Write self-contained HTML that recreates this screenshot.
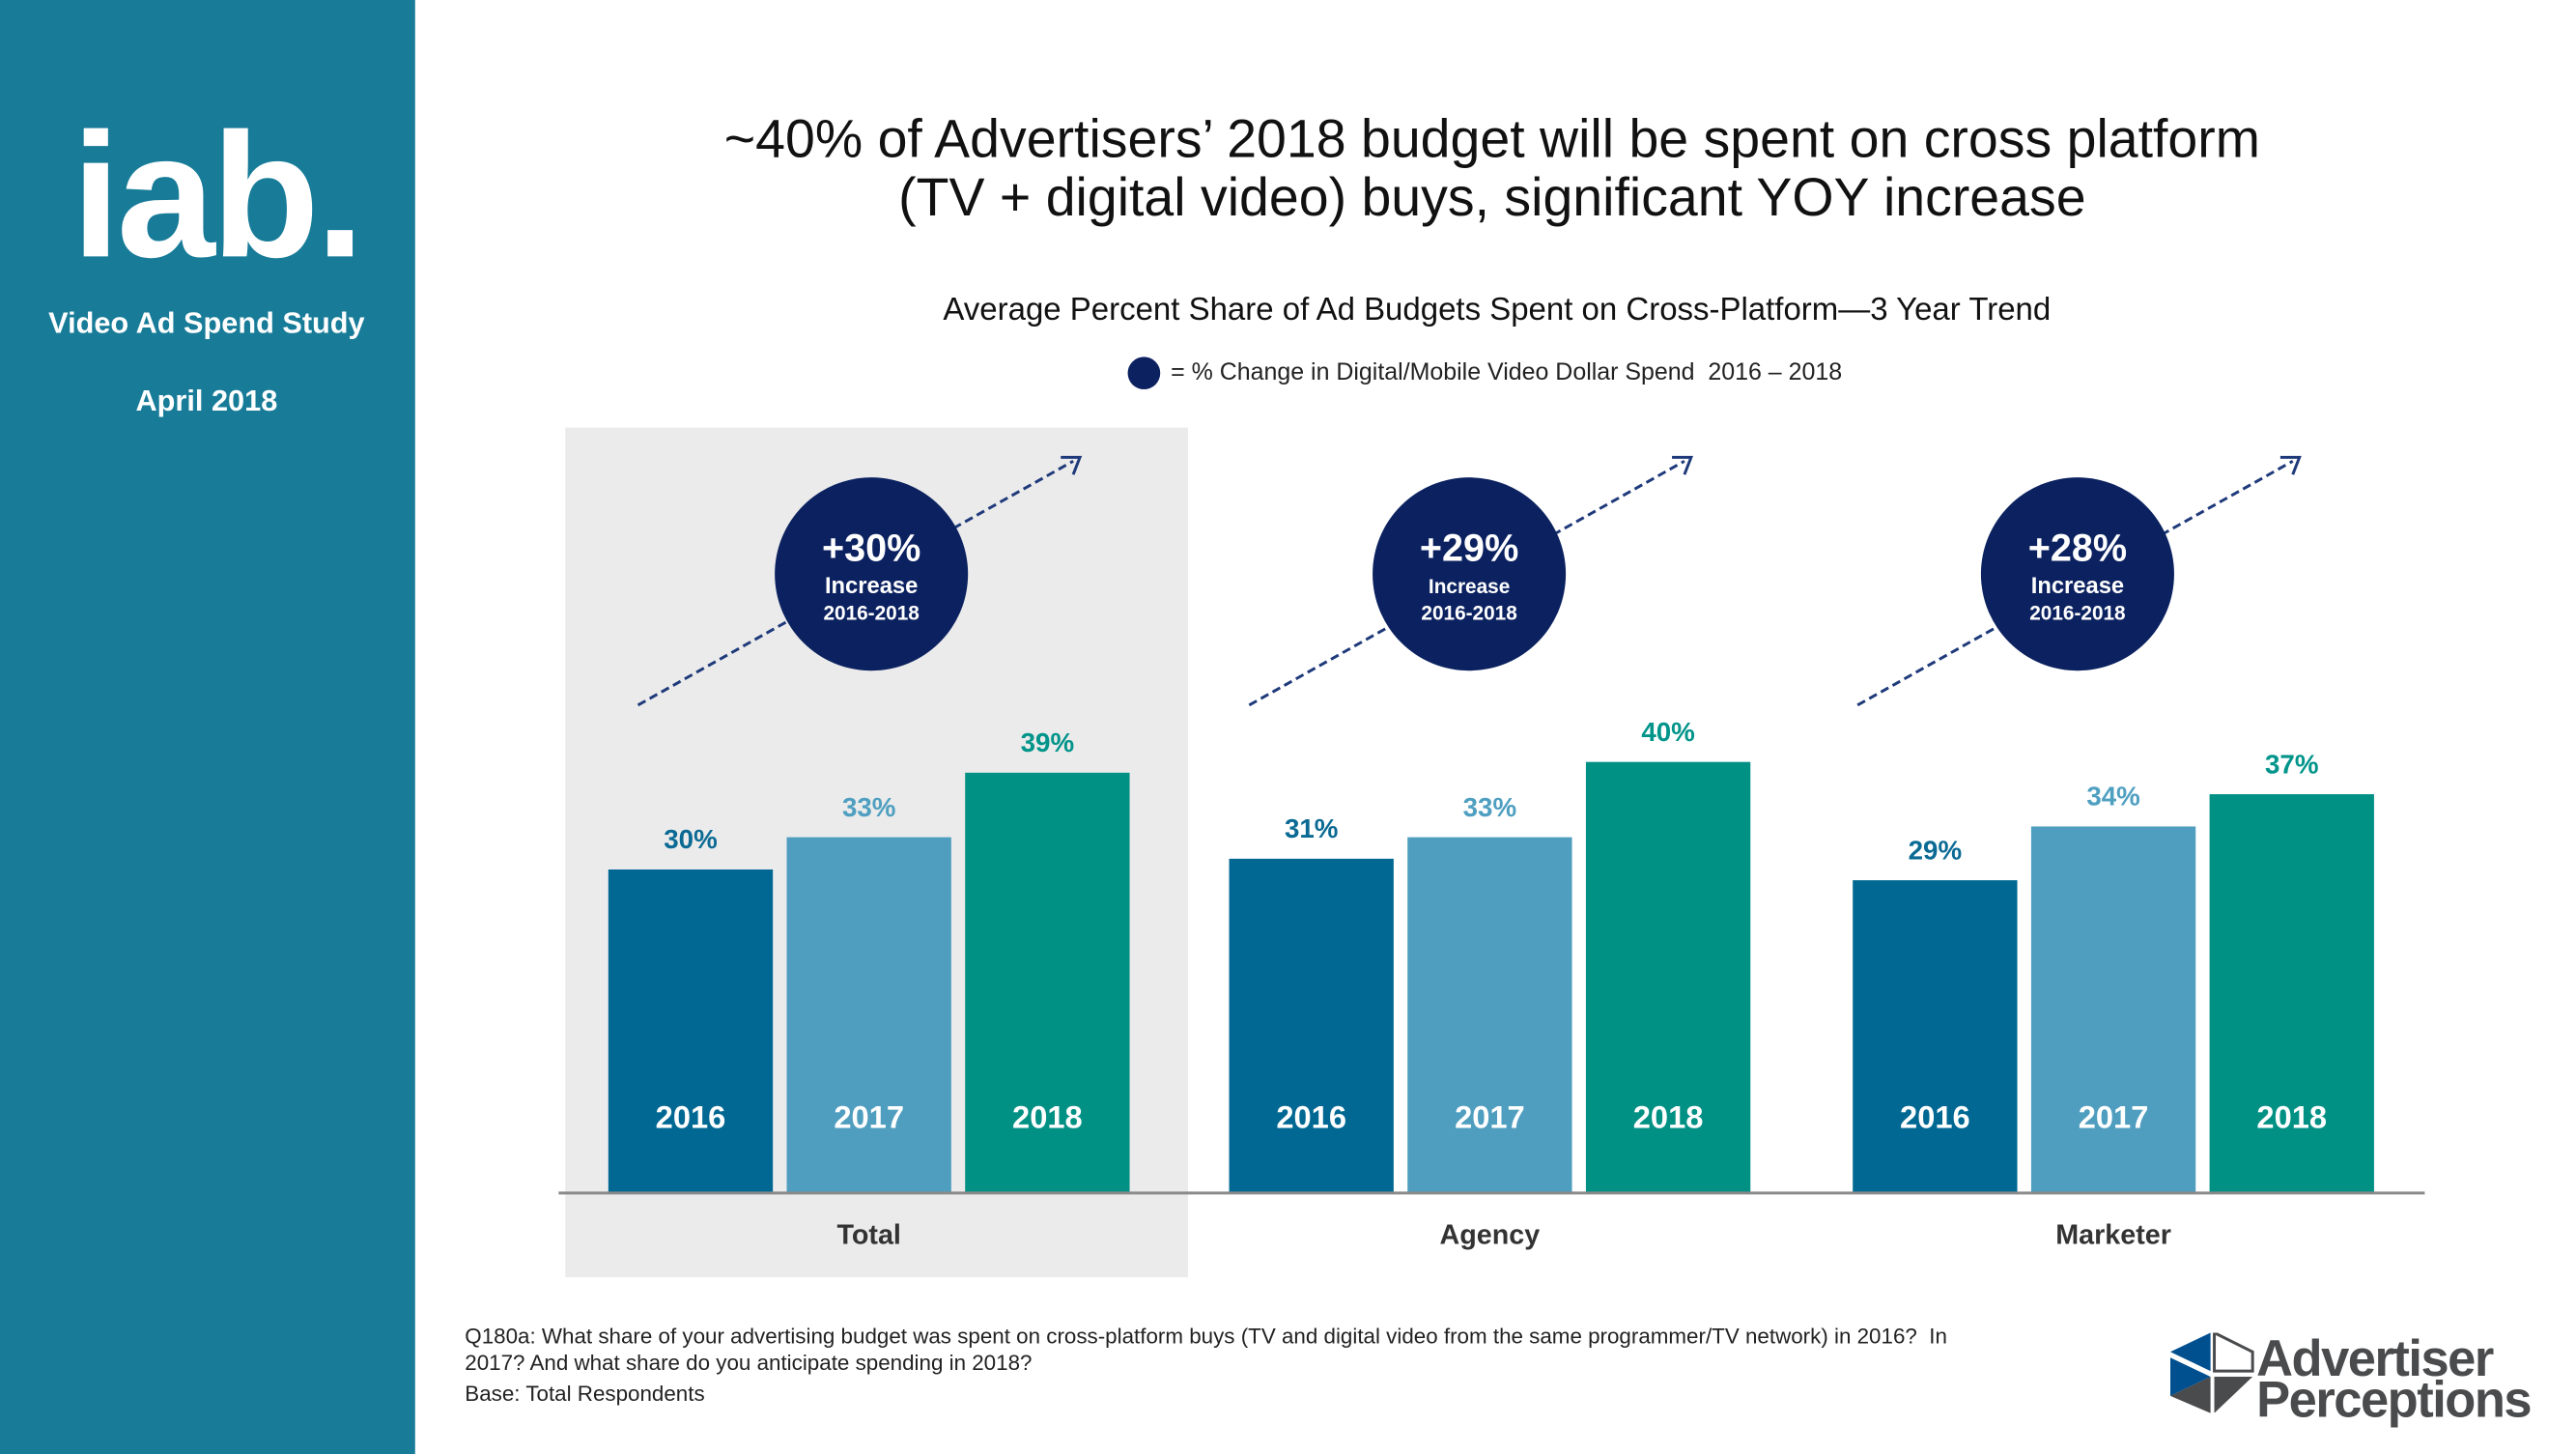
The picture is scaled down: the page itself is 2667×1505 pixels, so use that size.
<!DOCTYPE html>
<html><head><meta charset="utf-8"><style>
body{margin:0;width:2667px;height:1500px;overflow:hidden;background:#fff;font-family:"Liberation Sans",sans-serif;position:relative}
#wrap{position:absolute;left:0;top:0;width:2700px;height:1520px;transform:scale(0.9903);transform-origin:0 0}
.t{position:absolute;white-space:nowrap}
</style></head><body>
<div id="wrap">
<div style="position:absolute;left:0;top:0;width:434px;height:1520px;background:#187c99"></div>
<div class="t" style="left:10px;width:432px;text-align:center;top:110px;font-size:185px;font-weight:bold;color:#fff;letter-spacing:-4px;line-height:190px">iab.</div>
<div class="t" style="left:0;width:432px;text-align:center;top:320px;font-size:31px;font-weight:bold;color:#fff">Video Ad Spend Study</div>
<div class="t" style="left:0;width:432px;text-align:center;top:401px;font-size:31px;font-weight:bold;color:#fff">April 2018</div>
<div class="t" style="left:560px;width:2000px;text-align:center;top:114px;font-size:56px;line-height:61px;color:#111">~40% of Advertisers’ 2018 budget will be spent on cross platform<br>(TV + digital video) buys, significant YOY increase</div>
<div class="t" style="left:565px;width:2000px;text-align:center;top:305px;font-size:33.3px;color:#111">Average Percent Share of Ad Budgets Spent on Cross-Platform—3 Year Trend</div>
<div style="position:absolute;left:1179px;top:373px;width:34px;height:34px;border-radius:50%;background:#0c2260"></div>
<div class="t" style="left:1224px;top:375px;font-size:25.2px;color:#222">= % Change in Digital/Mobile Video Dollar Spend&nbsp; 2016 – 2018</div>
<svg id="chart" style="position:absolute;left:0;top:0" width="2700" height="1520"></svg>
<div class="t" style="left:486px;top:1383px;font-size:22.6px;line-height:28px;color:#222">Q180a: What share of your advertising budget was spent on cross-platform buys (TV and digital video from the same programmer/TV network) in 2016?&nbsp; In<br>2017? And what share do you anticipate spending in 2018?</div>
<div class="t" style="left:486px;top:1444px;font-size:22.6px;color:#222">Base: Total Respondents</div>
<svg style="position:absolute;left:2269px;top:1393px" width="420" height="110">
<polygon points="42,0 42,40 0,20" fill="#004f8f"/><polygon points="0,26 42,46 0,66" fill="#004f8f"/>
<polygon points="46,0 86,20 86,40 46,40" fill="none" stroke="#4a4b4d" stroke-width="3"/>
<polygon points="46,46 86,46 46,84" fill="#4a4b4d"/><polygon points="42,46 42,84 0,66" fill="#4a4b4d"/>
<text x="90" y="45" font-family="Liberation Sans" font-weight="bold" font-size="53" fill="#4a4b4d" letter-spacing="-1.5">Advertiser</text>
<text x="90" y="88" font-family="Liberation Sans" font-weight="bold" font-size="53" fill="#4a4b4d" letter-spacing="-1.5">Perceptions</text>
</svg>
</div>
<script>
const categories=["Total","Agency","Marketer"];
const years=["2016","2017","2018"];
const v2016=[30,31,29];
const v2017=[33,33,34];
const v2018=[39,40,37];
const increases=["+30%","+29%","+28%"];
const series=[v2016,v2017,v2018];
const barColors=["#006892","#4f9ebf","#009084"];
const labelColors=["#0b6a94","#4f9fc1","#00948a"];
const NS="http://www.w3.org/2000/svg";
const svg=document.getElementById('chart');
const baseY=1246,pxPer=11.24,groupX=[636,1285,1937],step=186.5,bw=172;
const y=v=>baseY-v*pxPer;
function mk(tag,attrs,parent){const e=document.createElementNS(NS,tag);for(const k in attrs)e.setAttribute(k,attrs[k]);(parent||svg).appendChild(e);return e;}
const panel=mk('rect',{x:591,y:447,width:651,height:888,fill:'#ebebeb'});


categories.forEach((c,g)=>{
  series.forEach((s,i)=>{
    const x=groupX[g]+i*step;
    const r=mk('rect',{x:x,y:y(s[g]),width:bw,height:s[g]*pxPer,fill:barColors[i]});
    
    
    const t=mk('text',{x:x+bw/2,y:y(s[g])-22,'text-anchor':'middle','font-size':28,'font-weight':'bold',fill:labelColors[i]});
    t.textContent=s[g]+'%';
    
    
    const yl=mk('text',{x:x+bw/2,y:1179,'text-anchor':'middle','font-size':33,'font-weight':'bold',fill:'#fff'});
    yl.textContent=years[i];
    
    
  });
  const cl=mk('text',{x:groupX[g]+step+bw/2,y:1300,'text-anchor':'middle','font-size':29,'font-weight':'bold',fill:'#333'});
  cl.textContent=c;
  
  
  const ax=[667,1306,1942][g];
  const ln=mk('line',{x1:ax,y1:737,x2:ax+455,y2:482,stroke:'#1f3a7a','stroke-width':3,'stroke-dasharray':'9,5'});
  
  
  mk('polyline',{points:`${ax+442},${478} ${ax+462},${478} ${ax+455},${496}`,fill:'none',stroke:'#1f3a7a','stroke-width':3});
  const cx=[911,1536,2172][g];
  const ci=mk('circle',{cx:cx,cy:600,r:101,fill:'#0c2260'});
  
  
  const a=mk('text',{x:cx,y:586,'text-anchor':'middle','font-size':40,'font-weight':'bold',fill:'#fff'});a.textContent=increases[g];
  const b=mk('text',{x:cx,y:620,'text-anchor':'middle','font-size':g==1?21:24,'font-weight':'bold',fill:'#fff'});b.textContent='Increase';
  const d=mk('text',{x:cx,y:648,'text-anchor':'middle','font-size':21,'font-weight':'bold',fill:'#fff'});d.textContent='2016-2018';
});
const axis=mk('line',{x1:584,y1:1247,x2:2535,y2:1247,stroke:'#8a8a8a','stroke-width':3});


</script>
</body></html>
